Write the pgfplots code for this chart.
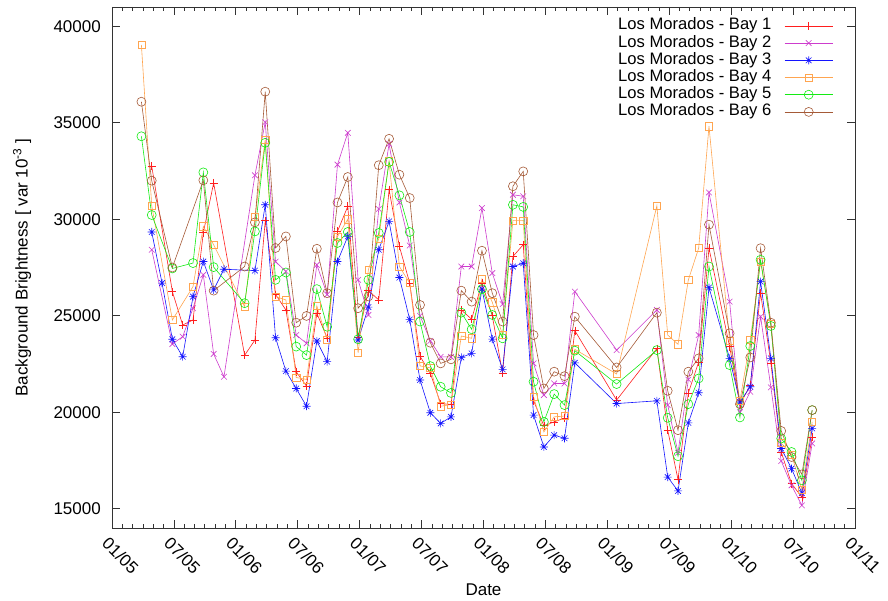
\documentclass[border=0pt]{standalone}
\usepackage{pgfplots}
\pgfplotsset{compat=1.18}
\usepackage{fontspec}
\setmainfont{Liberation Sans}
\definecolor{cA}{RGB}{255,30,30}
\definecolor{cB}{RGB}{205,60,205}
\definecolor{cC}{RGB}{20,20,255}
\definecolor{cD}{RGB}{255,165,80}
\definecolor{cE}{RGB}{20,235,20}
\definecolor{cF}{RGB}{165,90,55}
\pgfdeclareplotmark{gpstar}{%
 \pgfpathmoveto{\pgfqpoint{-\pgfplotmarksize}{0pt}}\pgfpathlineto{\pgfqpoint{\pgfplotmarksize}{0pt}}%
 \pgfpathmoveto{\pgfqpoint{0pt}{-\pgfplotmarksize}}\pgfpathlineto{\pgfqpoint{0pt}{\pgfplotmarksize}}%
 \pgfpathmoveto{\pgfqpoint{-.707\pgfplotmarksize}{-.707\pgfplotmarksize}}\pgfpathlineto{\pgfqpoint{.707\pgfplotmarksize}{.707\pgfplotmarksize}}%
 \pgfpathmoveto{\pgfqpoint{-.707\pgfplotmarksize}{.707\pgfplotmarksize}}\pgfpathlineto{\pgfqpoint{.707\pgfplotmarksize}{-.707\pgfplotmarksize}}%
 \pgfusepathqstroke}
\begin{document}
\begin{tikzpicture}[font=\fontsize{17}{20}\selectfont]
\begin{axis}[
 scale only axis, width=743pt, height=521pt,
 xmin=0, xmax=72, ymin=14000, ymax=41000,
 xtick={0,6,...,72},
 xticklabels={01/05,07/05,01/06,07/06,01/07,07/07,01/08,07/08,01/09,07/09,01/10,07/10,01/11},
 minor x tick num=5,
 ytick={15000,20000,...,40000},
 tick align=inside, major tick length=8pt, minor tick length=4pt,
 axis line style={black!80, line width=0.8pt},
 every tick/.style={black!80, line width=0.8pt},
 scaled y ticks=false,
 /pgf/number format/1000 sep={},
 /pgf/number format/assume math mode=true,
 tick label style={font=\fontsize{17}{20}\selectfont},
 xticklabel style={rotate=-45, anchor=north west, inner sep=0pt, yshift=-7pt, xshift=4pt},
 yticklabel style={anchor=east, inner sep=0pt, xshift=-11pt},
 xlabel={Date},
 ylabel={Background Brightness [ var 10\textsuperscript{-3} ]},
 xlabel style={at={(axis description cs:0.5,-0.119)}, anchor=center, font=\fontsize{17}{20}\selectfont},
 ylabel style={at={(axis description cs:-0.1211,0.5)}, anchor=center, font=\fontsize{17}{20}\selectfont},
 legend plot pos=right,
 legend cell align=left,
 legend style={at={(0.9704,0.980)}, anchor=north east, draw=none, fill=none,
   inner sep=0pt, outer sep=0pt, column sep=13pt, row sep=0.2pt,
   font=\fontsize{16.6}{20}\selectfont,
   nodes={inner sep=0pt, text height=12.5pt, text depth=4.5pt}},
 legend image code/.code={\draw[mark repeat=2,mark phase=2] plot coordinates {(0pt,0pt) (24pt,0pt) (48pt,0pt)};},
 every axis plot/.append style={line width=0.6pt},
]
\coordinate (SW) at (rel axis cs:0,0);
\coordinate (NE) at (rel axis cs:1,1);
\addplot[cA, mark=+, mark size=4pt] coordinates {
(3.85,32750) (5.85,26250) (6.85,24520) (7.85,24780) (8.85,29300) (9.85,31880) (12.85,22950) (13.85,23740) (14.85,29920) (15.85,26100) (16.85,25300) (17.85,22100) (18.85,21350) (19.85,25130) (20.85,23850) (21.85,29370) (22.85,30670) (23.85,23900) (24.85,26300) (25.85,25820) (26.85,31530) (27.85,28590) (28.85,26690) (29.85,22900) (30.85,22010) (31.85,20450) (32.85,20400) (33.85,25300) (34.85,24820) (35.85,26700) (36.85,25000) (37.85,22010) (38.85,28070) (39.85,28680) (40.85,20600) (41.85,19300) (42.85,19500) (43.85,19700) (44.85,24230) (48.9,20630) (52.8,23300) (53.85,19070) (54.85,16510) (55.85,21000) (56.85,22600) (57.85,28500) (59.85,23400) (60.85,20400) (61.85,21400) (62.85,26170) (63.85,22530) (64.85,17940) (65.85,16300) (66.85,15600) (67.85,18720)};
\addlegendentry{Los Morados - Bay 1}
\addplot[cB, mark=x, mark size=4pt] coordinates {
(3.85,28420) (5.85,23535) (6.85,23915) (7.85,25390) (8.85,27120) (9.85,23020) (10.85,21840) (13.85,32280) (14.85,35030) (15.85,27800) (16.85,27300) (17.85,24000) (18.85,23570) (19.85,27640) (20.85,26100) (21.85,32830) (22.85,34480) (23.85,26860) (24.85,25040) (25.85,30530) (26.85,33900) (27.85,30870) (28.85,28640) (29.85,25000) (30.85,23700) (31.85,22870) (32.85,22870) (33.85,27550) (34.85,27550) (35.85,30580) (36.85,27210) (37.85,25600) (38.85,31270) (39.85,31190) (40.85,22530) (41.85,20890) (42.85,21490) (43.85,21490) (44.85,26250) (48.9,23220) (52.8,25300) (53.85,20370) (54.85,17900) (55.85,21690) (56.85,24000) (57.85,31390) (59.85,25730) (60.85,20000) (61.85,21060) (62.85,24950) (63.85,21290) (64.85,17470) (65.85,16210) (66.85,15170) (67.85,18380)};
\addlegendentry{Los Morados - Bay 2}
\addplot[cC, mark=gpstar, mark size=4pt] coordinates {
(3.85,29340) (4.85,26690) (5.85,23780) (6.85,22875) (7.85,25990) (8.85,27810) (9.85,26340) (10.85,27410) (13.85,27340) (14.85,30750) (15.85,23860) (16.85,22130) (17.85,21230) (18.85,20310) (19.85,23690) (20.85,22620) (21.85,27810) (22.85,29110) (23.85,23740) (24.85,25450) (25.85,28420) (26.85,29890) (27.85,26980) (28.85,24800) (29.85,21670) (30.85,19970) (31.85,19420) (32.85,19760) (33.85,22840) (34.85,23050) (35.85,26380) (36.85,23790) (37.85,22220) (38.85,27550) (39.85,27720) (40.85,19850) (41.85,18200) (42.85,18810) (43.85,18650) (44.85,22560) (48.9,20450) (52.8,20590) (53.85,16640) (54.85,15920) (55.85,19450) (56.85,21010) (57.85,26460) (59.85,22790) (60.85,20530) (61.85,21320) (62.85,26770) (63.85,22790) (64.85,18120) (65.85,17080) (66.85,15810) (67.85,19160)};
\addlegendentry{Los Morados - Bay 3}
\addplot[cD, mark=square, mark size=3.6pt] coordinates {
(2.85,39030) (3.85,30700) (5.85,24780) (7.85,26510) (8.85,29630) (9.85,28680) (12.85,25470) (13.85,30120) (14.85,34130) (15.85,25990) (16.85,25820) (17.85,21800) (18.85,21700) (19.85,25510) (20.85,23740) (21.85,29100) (22.85,30000) (23.85,23080) (24.85,27400) (25.85,29000) (26.85,33000) (27.85,27550) (28.85,26690) (29.85,22400) (30.85,22300) (31.85,20310) (32.85,20400) (33.85,23950) (34.85,23830) (35.85,26900) (36.85,25700) (37.85,24000) (38.85,29940) (39.85,29940) (40.85,20800) (41.85,18980) (42.85,19760) (43.85,19800) (44.85,23260) (48.9,21980) (52.8,30700) (53.85,24000) (54.85,23520) (55.85,26860) (56.85,28500) (57.85,34820) (59.85,23700) (60.85,20600) (61.85,23740) (62.85,27800) (63.85,24600) (64.85,18400) (65.85,17800) (66.85,16000) (67.85,19500)};
\addlegendentry{Los Morados - Bay 4}
\addplot[cE, mark=o, mark size=4.5pt] coordinates {
(2.85,34300) (3.85,30220) (5.85,27450) (7.85,27730) (8.85,32430) (9.85,27520) (12.85,25650) (13.85,29370) (14.85,33960) (15.85,26860) (16.85,27240) (17.85,23400) (18.85,22960) (19.85,26380) (20.85,24430) (21.85,28770) (22.85,29340) (23.85,23780) (24.85,26860) (25.85,29290) (26.85,32970) (27.85,31240) (28.85,29340) (29.85,24700) (30.85,22390) (31.85,21320) (32.85,21000) (33.85,25160) (34.85,24300) (35.85,26380) (36.85,25040) (37.85,23830) (38.85,30750) (39.85,30640) (40.85,21580) (41.85,19500) (42.85,20940) (43.85,20370) (44.85,23190) (48.9,21460) (52.8,23220) (53.85,19710) (54.85,17720) (55.85,20420) (56.85,21750) (57.85,27550) (59.85,22440) (60.85,19730) (61.85,23430) (62.85,27900) (63.85,24470) (64.85,18640) (65.85,17940) (66.85,16470) (67.85,20110)};
\addlegendentry{Los Morados - Bay 5}
\addplot[cF, mark=o, mark size=4.5pt] coordinates {
(2.85,36090) (3.85,32000) (5.85,27500) (8.85,32020) (9.85,26300) (12.85,27550) (13.85,29840) (14.85,36610) (15.85,28510) (16.85,29110) (17.85,24640) (18.85,24990) (19.85,28470) (20.85,26170) (21.85,30870) (22.85,32190) (23.85,25390) (24.85,26000) (25.85,32800) (26.85,34170) (27.85,32310) (28.85,31100) (29.85,25560) (30.85,23600) (31.85,22530) (32.85,22740) (33.85,26300) (34.85,25730) (35.85,28370) (36.85,26170) (37.85,24700) (38.85,31710) (39.85,32480) (40.85,24000) (41.85,21230) (42.85,22100) (43.85,21870) (44.85,24950) (48.9,22320) (52.8,25160) (53.85,21110) (54.85,19070) (55.85,22100) (56.85,22790) (57.85,29720) (59.85,24090) (60.85,20420) (61.85,22840) (62.85,28500) (63.85,24640) (64.85,19030) (65.85,17680) (66.85,16780) (67.85,20110)};
\addlegendentry{Los Morados - Bay 6}
\end{axis}
\pgfresetboundingbox
\path ([shift={(-112pt,-73pt)}]SW) rectangle ([shift={(33pt,7pt)}]NE);
\end{tikzpicture}
\end{document}
